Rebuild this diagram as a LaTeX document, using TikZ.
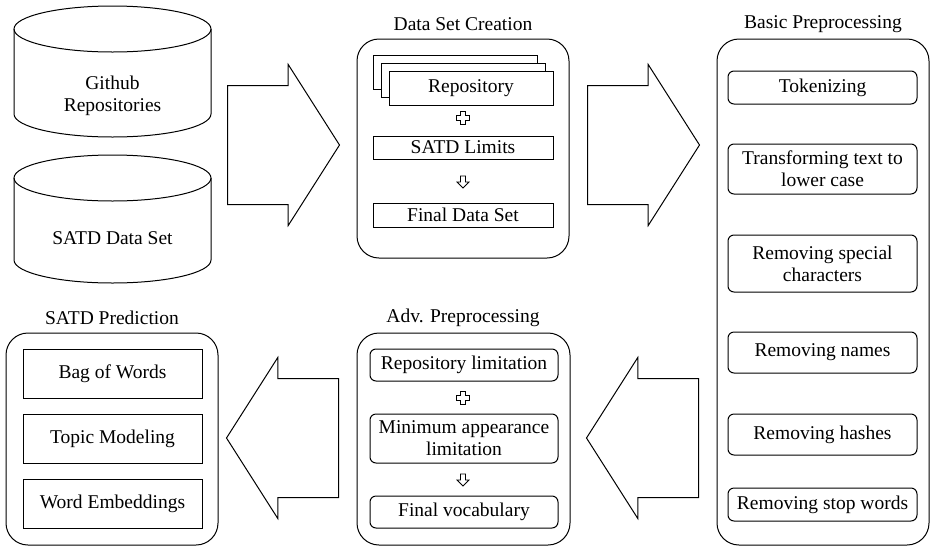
\documentclass[tikz,border=0pt]{standalone}
\usepackage{fontspec}
\setmainfont{Liberation Serif}
\usetikzlibrary{shapes.arrows}
\tikzset{
  box/.style={draw,rectangle,line width=1pt,align=center,inner sep=0pt},
  rbox/.style={box,rounded corners=6pt},
  stage/.style={draw,rectangle,line width=1pt,rounded corners=22pt,inner sep=0pt},
  db/.style={line width=1pt},
  bigarrow/.style={draw,single arrow,line width=1pt,minimum height=112pt,inner xsep=0pt,inner ysep=59pt,single arrow head extend=21pt,single arrow tip angle=115,anchor=tail},
  pics/plussign/.style={code={
    \draw[line width=0.8pt] (-2.3,-6.5) -- (2.3,-6.5) -- (2.3,-2.3) -- (6.5,-2.3) -- (6.5,2.3) -- (2.3,2.3) -- (2.3,6.5)
      -- (-2.3,6.5) -- (-2.3,2.3) -- (-6.5,2.3) -- (-6.5,-2.3) -- (-2.3,-2.3) -- cycle;}},
  pics/downsign/.style={code={
    \draw[line width=0.8pt] (-2.5,-6) -- (2.5,-6) -- (2.5,0) -- (6,0) -- (0,6) -- (-6,0) -- (-2.5,0) -- cycle;}},
}
\begin{document}
\begin{tikzpicture}[x=1pt,y=-1pt,font=\rmfamily\fontsize{19.5}{22}\selectfont]
\useasboundingbox (0,0) rectangle (930,547);

% sources
\draw[db] (14,29) -- (14,114) arc[start angle=180,end angle=0,x radius=98.5,y radius=23] -- (211,29);
\draw[db] (112.5,29) ellipse[x radius=98.5,y radius=23];
\draw[db] (14,178) -- (14,260) arc[start angle=180,end angle=0,x radius=98.5,y radius=23] -- (211,178);
\draw[db] (112.5,178) ellipse[x radius=98.5,y radius=23];
\node[align=center] (gh) at (112.5,96) {Github\\Repositories};
\node (sd) at (112.5,238) {SATD Data Set};

% stages
\node[stage,minimum width=212pt,minimum height=219pt] (dsc) at (463,148.5) {};
\node[stage,minimum width=212pt,minimum height=506pt] (bp) at (823,292) {};
\node[stage,minimum width=213pt,minimum height=212pt] (adv) at (463.5,439) {};
\node[stage,minimum width=212pt,minimum height=212pt] (pred) at (112,439) {};
\node (dsct) at (463,24) {Data Set Creation};
\node (bpt) at (823,24) {Basic Preprocessing};
\node (advt) at (463,318) {Adv. Preprocessing};
\node (predt) at (112,318) {SATD Prediction};

% big arrows
\node[bigarrow] (a1) at (227,145) {};
\node[bigarrow] (a2) at (587,145) {};
\node[bigarrow,shape border rotate=180] (a3) at (699,438) {};
\node[bigarrow,shape border rotate=180] (a4) at (339,438) {};

% data set creation
\node[box,minimum width=164pt,minimum height=34pt] (rep3) at (455,72) {};
\node[box,fill=white,minimum width=164pt,minimum height=34pt] (rep2) at (463,80) {};
\node[box,fill=white,minimum width=164pt,minimum height=34pt] (rep) at (471,88) {Repository};
\pic at (463,118) {plussign};
\node[box,minimum width=180pt,minimum height=23pt] (lim) at (463,147.5) {SATD Limits};
\pic at (463,182) {downsign};
\node[box,minimum width=180pt,minimum height=24pt] (fds) at (463,215) {Final Data Set};

% basic preprocessing
\node[rbox,minimum width=189pt,minimum height=33pt] (tok) at (822.5,87.5) {Tokenizing};
\node[rbox,minimum width=189pt,minimum height=50pt] (low) at (822.5,169) {Transforming text to\\lower case};
\node[rbox,minimum width=189pt,minimum height=57pt] (spec) at (822.5,263.5) {Removing special\\characters};
\node[rbox,minimum width=189pt,minimum height=41pt] (nam) at (822.5,352.5) {Removing names};
\node[rbox,minimum width=189pt,minimum height=41pt] (hsh) at (822.5,434.5) {Removing hashes};
\node[rbox,minimum width=189pt,minimum height=33pt] (stw) at (822.5,504.5) {Removing stop words};

% adv. preprocessing
\node[rbox,minimum width=188pt,minimum height=32pt] (rl) at (464,365) {Repository limitation};
\pic at (463,398) {plussign};
\node[rbox,minimum width=188pt,minimum height=49pt] (mal) at (464,438.5) {Minimum appearance\\limitation};
\pic at (463,480) {downsign};
\node[rbox,minimum width=188pt,minimum height=32pt] (fv) at (464,512) {Final vocabulary};

% prediction
\node[box,minimum width=179pt,minimum height=49pt] (bow) at (112.5,373.5) {Bag of Words};
\node[box,minimum width=179pt,minimum height=49pt] (tm) at (112.5,438.5) {Topic Modeling};
\node[box,minimum width=179pt,minimum height=49pt] (we) at (112.5,503.5) {Word Embeddings};
\end{tikzpicture}
\end{document}
